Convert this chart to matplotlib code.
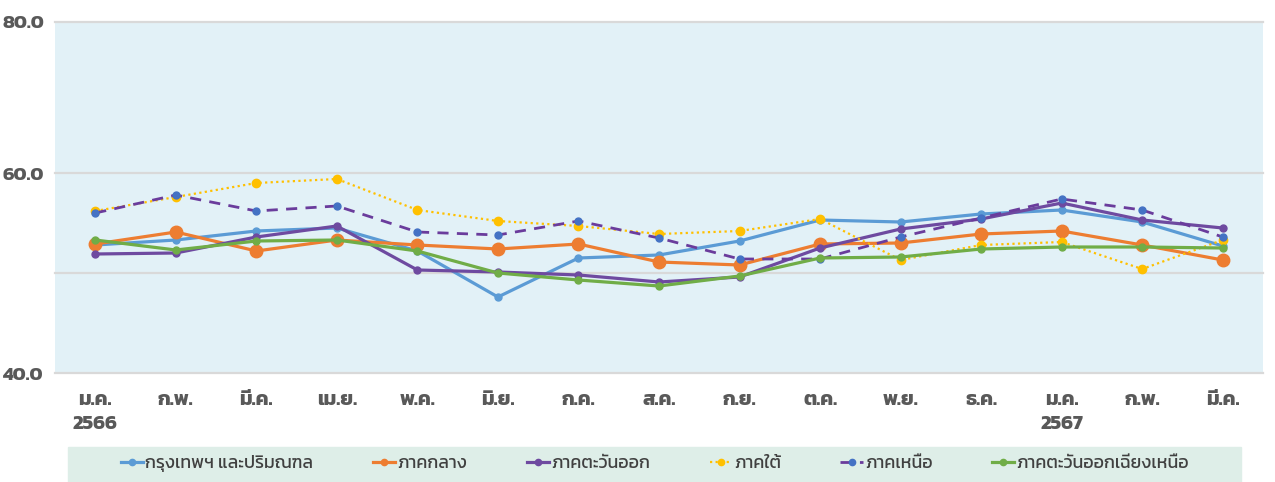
import matplotlib
matplotlib.use("Agg")
import matplotlib.pyplot as plt
from matplotlib import font_manager
from matplotlib.patches import Rectangle

# ฟอนต์ไทย
available = {f.name for f in font_manager.fontManager.ttflist}
thai_font = next(n for n in ["Kanit", "Prompt", "Noto Sans Thai", "Sarabun", "Bai Jamjuree"] if n in available)
plt.rcParams['font.family'] = [thai_font, 'DejaVu Sans']

months = ["ม.ค.\n2566", "ก.พ.", "มี.ค.", "เม.ย.", "พ.ค.", "มิ.ย.", "ก.ค.", "ส.ค.",
          "ก.ย.", "ต.ค.", "พ.ย.", "ธ.ค.", "ม.ค.\n2567", "ก.พ.", "มี.ค."]

bangkok   = [52.8, 53.3, 54.2, 54.5, 52.2, 47.6, 51.5, 51.8, 53.2, 55.3, 55.1, 55.9, 56.3, 55.1, 52.7]
central   = [52.9, 54.1, 52.2, 53.3, 52.8, 52.4, 52.9, 51.1, 50.8, 52.9, 53.0, 53.9, 54.2, 52.8, 51.3]
east      = [51.9, 52.0, 53.6, 54.7, 50.3, 50.1, 49.8, 49.1, 49.6, 52.5, 54.4, 55.4, 57.0, 55.3, 54.5]
south     = [56.2, 57.6, 59.0, 59.4, 56.3, 55.2, 54.7, 53.9, 54.2, 55.4, 51.3, 52.8, 53.1, 50.4, 53.3]
north     = [56.0, 57.8, 56.2, 56.7, 54.1, 53.8, 55.2, 53.5, 51.4, 51.4, 53.6, 55.5, 57.4, 56.3, 53.6]
northeast = [53.3, 52.3, 53.2, 53.3, 52.2, 50.0, 49.3, 48.7, 49.7, 51.5, 51.6, 52.4, 52.6, 52.6, 52.5]

labels = ["กรุงเทพฯ และปริมณฑล", "ภาคกลาง", "ภาคตะวันออก", "ภาคใต้", "ภาคเหนือ",
          "ภาคตะวันออกเฉียงเหนือ"]

fig = plt.figure(figsize=(12.75, 4.82), dpi=100)
ax = fig.add_axes([55 / 1275, 1 - 373 / 482, (1263 - 55) / 1275, (373 - 22) / 482])
ax.set_facecolor("#E2F1F7")

x = list(range(len(months)))
ax.plot(x, bangkok, color="#5B9BD5", lw=2.3, marker="o", ms=5, label=labels[0], zorder=3)
ax.plot(x, central, color="#ED7D31", lw=2.3, marker="o", ms=9, label=labels[1], zorder=3)
ax.plot(x, east, color="#6E4AA0", lw=2.3, marker="o", ms=5, label=labels[2], zorder=3)
ax.plot(x, south, color="#FFC000", lw=1.6, ls=(0, (1, 1.5)), marker="o", ms=6,
        label=labels[3], zorder=3)
ax.plot(x, north, color="#6A3C9C", lw=2.0, ls=(0, (4, 3)), marker="o", ms=5,
        mfc="#4472C4", mec="#4472C4", label=labels[4], zorder=3)
ax.plot(x, northeast, color="#70AD47", lw=2.3, marker="o", ms=5, label=labels[5], zorder=3)

ylim_top = 75.1
ax.set_ylim(40, ylim_top)
ax.set_xlim(-0.5, len(months) - 0.5)
for y in [40, 50, 60, ylim_top]:
    ax.axhline(y, color="#D9D9D9", lw=1.6, zorder=1, clip_on=False)
ax.set_yticks([40, 60, ylim_top])
ax.set_yticklabels(["40.0", "60.0", "80.0"], fontsize=14, fontweight="bold", color="#595959")
ax.set_xticks(x)
ax.set_xticklabels(months, fontsize=14.5, fontweight="bold", color="#595959", linespacing=1.45)
ax.tick_params(length=0)
ax.tick_params(axis="x", pad=13)
ax.tick_params(axis="y", pad=8)
for s in ax.spines.values():
    s.set_visible(False)

# กรอบคำอธิบายสัญลักษณ์
fig.patches.append(Rectangle((68 / 1275, 0), (1241 - 68) / 1275, 35 / 482,
                             transform=fig.transFigure, color="#DEEEE8", zorder=0))
leg = fig.legend(loc="center", bbox_to_anchor=(655 / 1275, 1 - 464 / 482), ncol=6, frameon=False,
                 fontsize=12.8, handlelength=1.25, handletextpad=0.12, columnspacing=3.35,
                 labelcolor="#404040")
for h in leg.legend_handles:
    h.set_markersize(4.5)

fig.savefig("out.png")
